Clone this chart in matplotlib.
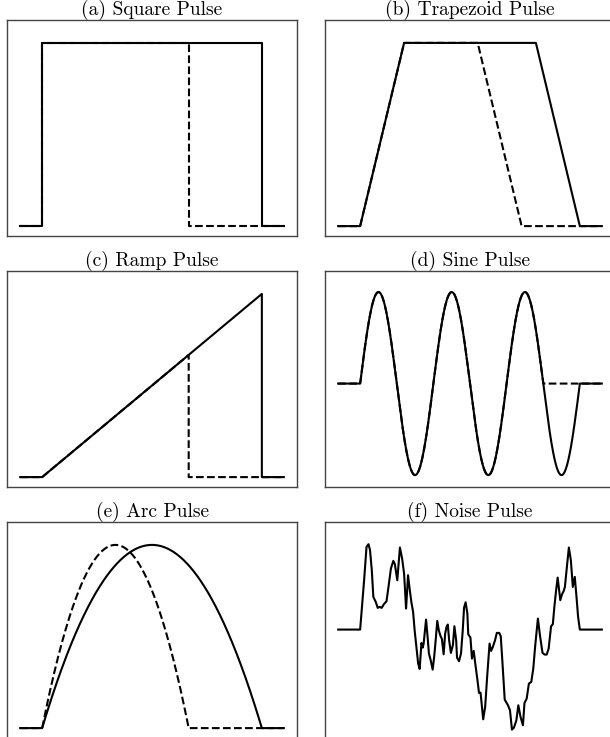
import numpy as np
import matplotlib
matplotlib.use('Agg')
import matplotlib.pyplot as plt

plt.rcParams['font.family'] = ['cmr10', 'DejaVu Serif']
plt.rcParams['axes.formatter.use_mathtext'] = True

# titles of the six panels
titles = ['(a) Square Pulse', '(b) Trapezoid Pulse', '(c) Ramp Pulse',
          '(d) Sine Pulse', '(e) Arc Pulse', '(f) Noise Pulse']

# time axis limits: flat lead-in / lead-out around the unit pulse
t_start, t_end = -0.1, 1.1
full_width = 1.0     # solid pulse
short_width = 0.667  # dashed pulse

# square pulse breakpoints
sq_t_full = [t_start, 0, 0, full_width, full_width, t_end]
sq_t_short = [t_start, 0, 0, short_width, short_width, t_end]
sq_y = [0, 0, 1, 1, 0, 0]

# trapezoid breakpoints
tr_t_full = [t_start, 0, 0.2, 0.8, 1.0, t_end]
tr_t_short = [t_start, 0, 0.2, 0.535, 0.735, t_end]
tr_y = [0, 0, 1, 1, 0, 0]

# ramp breakpoints
rp_t_full = [t_start, 0, 1.0, 1.0, t_end]
rp_y_full = [0, 0, 1.0, 0, 0]
rp_t_short = [t_start, 0, 0.667, 0.667, t_end]
rp_y_short = [0, 0, 0.667, 0, 0]

# sine pulse: 3 cycles over the full width, dashed stops after 2.5
sine_cycles = 3
sine_cycles_short = 2.5

# noise pulse samples
noise_t = [-0.1, 0.0, 0.018, 0.029, 0.038, 0.045, 0.053, 0.060, 0.071, 0.080,
           0.089, 0.098, 0.108, 0.120, 0.131, 0.140, 0.151, 0.158, 0.169, 0.181,
           0.191, 0.200, 0.209, 0.218, 0.226, 0.233, 0.241, 0.248, 0.256, 0.264,
           0.271, 0.279, 0.285, 0.289, 0.300, 0.307, 0.313, 0.321, 0.330, 0.337,
           0.345, 0.351, 0.358, 0.366, 0.372, 0.380, 0.387, 0.393, 0.399, 0.405,
           0.413, 0.422, 0.429, 0.437, 0.441, 0.450, 0.459, 0.467, 0.473, 0.480,
           0.488, 0.492, 0.502, 0.509, 0.517, 0.524, 0.533, 0.541, 0.548, 0.560,
           0.569, 0.578, 0.589, 0.596, 0.604, 0.614, 0.622, 0.633, 0.640, 0.648,
           0.658, 0.673, 0.682, 0.691, 0.700, 0.711, 0.720, 0.730, 0.741, 0.748,
           0.758, 0.768, 0.779, 0.788, 0.797, 0.809, 0.819, 0.830, 0.840, 0.849,
           0.858, 0.869, 0.877, 0.884, 0.892, 0.899, 0.911, 0.919, 0.926, 0.932,
           0.941, 0.950, 0.959, 0.968, 0.977, 0.986, 0.992, 1.0, 1.1]
noise_v = [0, 0, 0.578, 0.969, 1.0, 0.930, 0.695, 0.383, 0.324, 0.254,
           0.266, 0.254, 0.297, 0.332, 0.539, 0.715, 0.805, 0.766, 0.578, 0.961,
           0.832, 0.656, 0.246, 0.637, 0.461, 0.324, 0.207, -0.008, -0.203, -0.398,
           -0.461, -0.156, -0.211, -0.164, 0.117, -0.086, -0.281, -0.359, -0.469, -0.320,
           -0.086, 0.102, -0.008, -0.078, -0.109, -0.289, -0.047, 0.031, 0.059, -0.125,
           -0.273, -0.184, 0.039, -0.125, -0.328, -0.371, -0.281, -0.008, 0.258, 0.320,
           0.188, -0.055, -0.094, -0.340, -0.250, -0.398, -0.574, -0.742, -0.738, -1.051,
           -0.906, -0.555, -0.164, -0.250, -0.203, -0.125, -0.039, -0.039, -0.078, -0.398,
           -0.820, -0.887, -0.945, -1.172, -1.148, -1.063, -0.887, -1.023, -1.121, -0.859,
           -0.809, -0.633, -0.613, -0.457, -0.184, 0.129, -0.078, -0.273, -0.293, -0.293,
           -0.223, 0.039, 0.063, 0.266, 0.461, 0.609, 0.344, 0.414, 0.449, 0.500,
           0.734, 0.961, 0.813, 0.500, 0.617, 0.344, 0.148, 0, 0]


def sine_pulse(t, cycles):
    stop = cycles / sine_cycles * full_width
    inside = (t >= 0) & (t <= stop)
    return np.where(inside, np.sin(2 * np.pi * sine_cycles * t), 0.0)


def arc_pulse(t, width):
    inside = (t >= 0) & (t <= width)
    return np.where(inside, 4 * (t / width) * (1 - t / width), 0.0)


t = np.linspace(t_start, t_end, 1201)

fig = plt.figure(figsize=(6.1, 7.37), dpi=100)
W, H = 610.0, 737.0
col_x = [7, 325]
row_top = [20, 271, 522]
aw, ah = 290, 216

axes = []
for r in range(3):
    for c in range(2):
        ax = fig.add_axes([col_x[c] / W, (H - row_top[r] - ah) / H, aw / W, ah / H])
        axes.append(ax)

lw = 1.5
solid = dict(color='black', lw=lw, ls='-')
dashed = dict(color='black', lw=lw, ls='--')

axes[0].plot(sq_t_full, sq_y, **solid)
axes[0].plot(sq_t_short, sq_y, **dashed)

axes[1].plot(tr_t_full, tr_y, **solid)
axes[1].plot(tr_t_short, tr_y, **dashed)

axes[2].plot(rp_t_full, rp_y_full, **solid)
axes[2].plot(rp_t_short, rp_y_short, **dashed)

axes[3].plot(t, sine_pulse(t, sine_cycles), **solid)
axes[3].plot(t, sine_pulse(t, sine_cycles_short), **dashed)

axes[4].plot(t, arc_pulse(t, full_width), **solid)
axes[4].plot(t, arc_pulse(t, short_width), **dashed)

axes[5].plot(noise_t, noise_v, **solid)

ylims = [(-0.054, 1.125), (-0.054, 1.125), (-0.054, 1.125),
         (-1.13, 1.23), (-0.054, 1.125), (-1.27, 1.26)]

for ax, title, yl in zip(axes, titles, ylims):
    ax.set_xlim(t_start - 0.06, t_end + 0.06)
    ax.set_ylim(*yl)
    ax.set_xticks([])
    ax.set_yticks([])
    for s in ax.spines.values():
        s.set_color('#444444')
        s.set_linewidth(1.0)
    ax.set_title(title, fontsize=14, pad=0.8)

fig.savefig('out.png', dpi=100)
